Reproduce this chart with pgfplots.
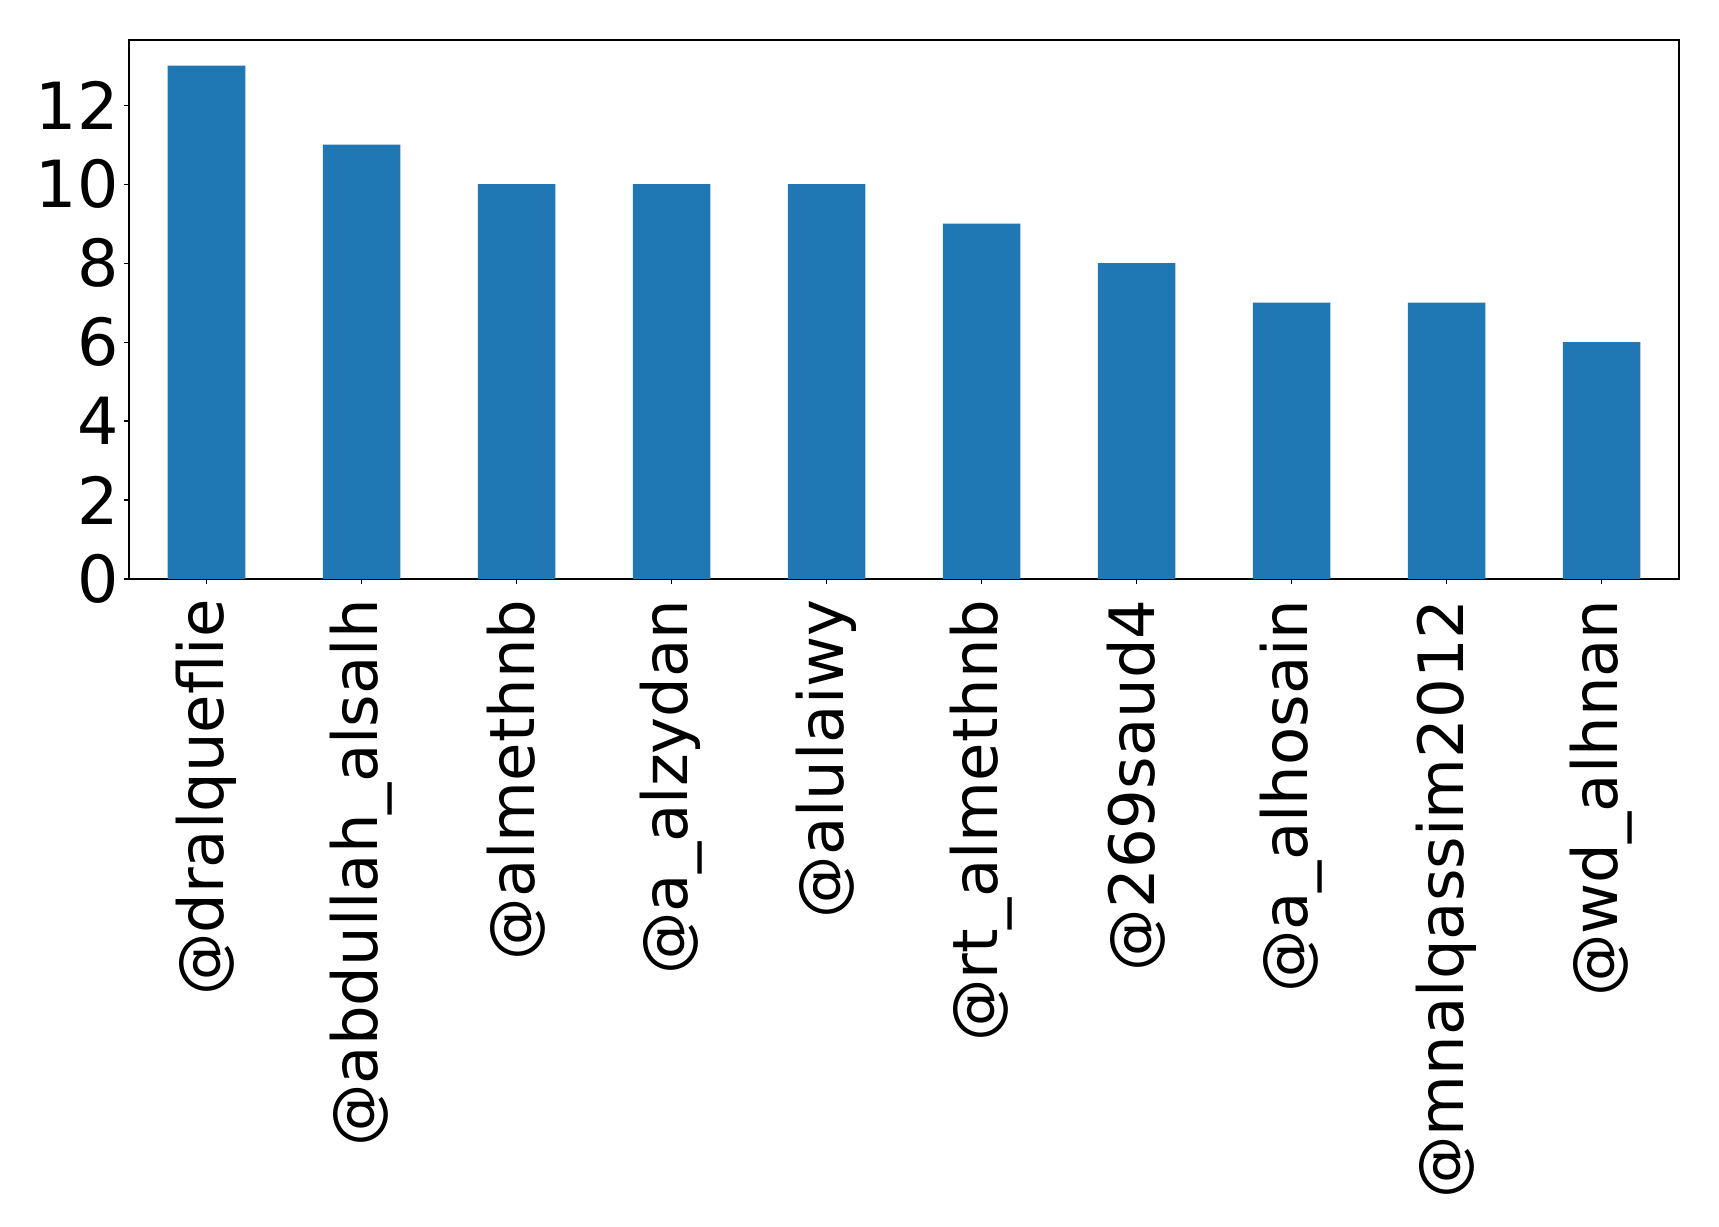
\documentclass[border=0pt]{standalone}
\usepackage{fontspec}
\setmainfont{DejaVu Sans}
\usepackage{pgfplots}
\pgfplotsset{compat=1.18}
\definecolor{barblue}{HTML}{1F77B4}
\begin{document}
\begin{tikzpicture}
\begin{axis}[
    name=ax,
    scale only axis,
    width=620pt, height=215.6pt,
    ybar, bar width=0.5,
    xmin=-0.5, xmax=9.5,
    ymin=0, ymax=13.65,
    xtick={0,...,9},
    xticklabels={@dralqueflie,@abdullah\_alsalh,@almethnb,@a\_alzydan,@alulaiwy,@rt\_almethnb,@269saud4,@a\_alhosain,@mnalqassim2012,@wd\_alhnan},
    ytick={0,2,...,12},
    tick pos=left,
    tick align=outside,
    major tick length=2pt,
    tick style={black, line width=0.45pt},
    axis line style={black, line width=0.45pt},
    /pgf/number format/assume math mode=true,
    xticklabel style={font=\fontsize{25}{30}\selectfont, rotate=90, anchor=east, inner xsep=6pt, inner ysep=0pt},
    yticklabel style={font=\fontsize{26}{31}\selectfont, anchor=east, inner xsep=2pt, inner ysep=0pt},
]
\addplot[fill=barblue, draw=none] coordinates {
    (0,13) (1,11) (2,10) (3,10) (4,10) (5,9) (6,8) (7,7) (8,7) (9,6)
};
\end{axis}
\pgfresetboundingbox
\path[use as bounding box] ([xshift=-51.6pt,yshift=-259.2pt]ax.south west) rectangle ([xshift=16pt,yshift=16pt]ax.north east);
\end{tikzpicture}
\end{document}
